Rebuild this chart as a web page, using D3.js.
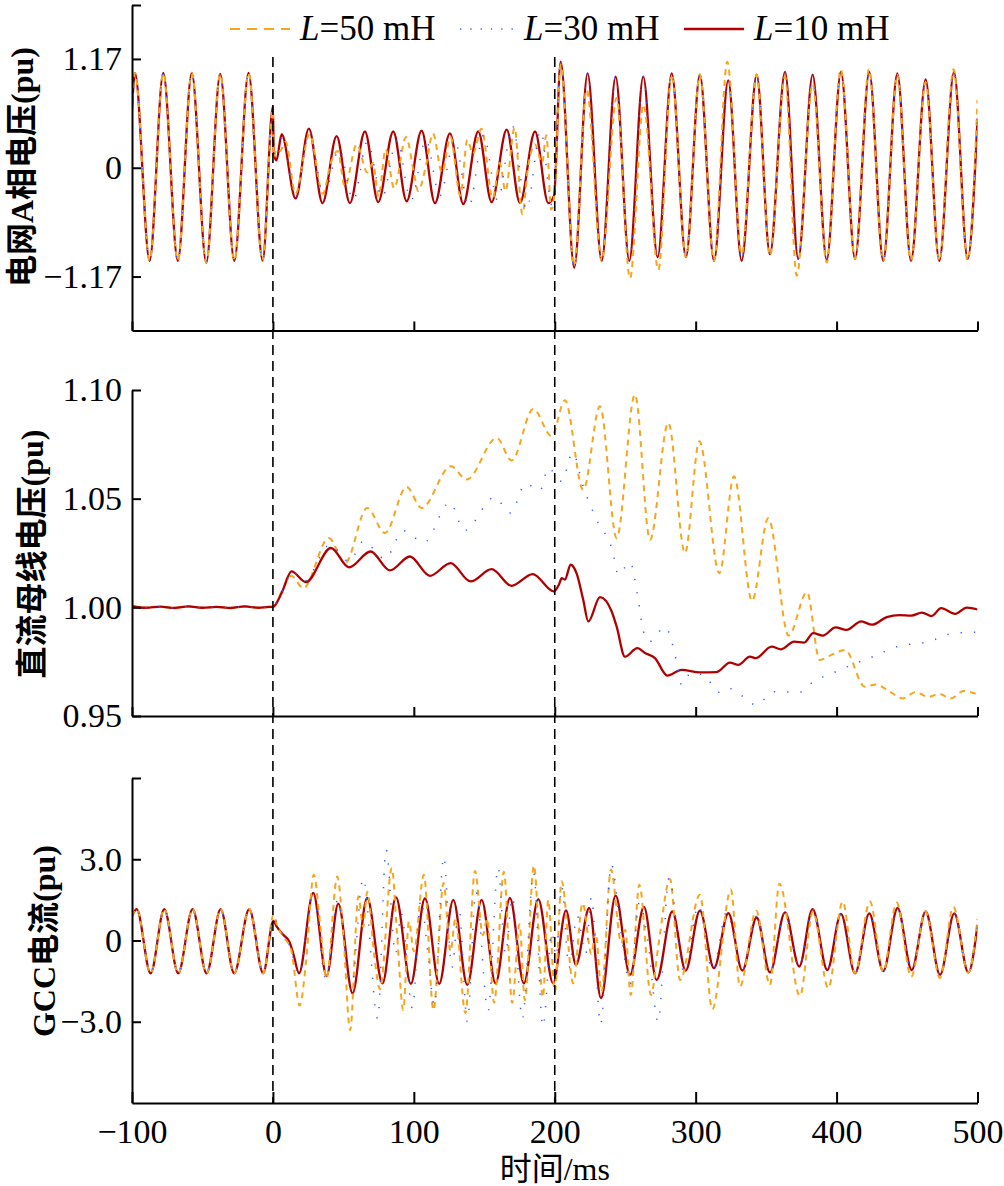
<!DOCTYPE html>
<html><head><meta charset="utf-8">
<script src="https://cdn.jsdelivr.net/npm/d3@7/dist/d3.min.js"></script>
<style>body{margin:0;background:#fff}svg{display:block}</style>
</head><body>
<svg id="chart" width="1004" height="1186"></svg>
<script>
// ---------------- DATA ----------------
const timeTicks = [-100, 0, 100, 200, 300, 400, 500];
const timeTickLabels = ["−100", "0", "100", "200", "300", "400", "500"];
const faultTimes = [0, 200];
const seriesNames = ["L=50 mH", "L=30 mH", "L=10 mH"];
const inductances = ["50", "30", "10"];

const gridTicks = [-1.17, 0, 1.17];
const gridTickLabels = ["−1.17", "0", "1.17"];
const dcTicks = [0.95, 1.00, 1.05, 1.10];
const dcTickLabels = ["0.95", "1.00", "1.05", "1.10"];
const gccTicks = [-3, 0, 3];
const gccTickLabels = ["−3.0", "0", "3.0"];

// Panel 1: grid phase-A voltage (pu) — [time ms, value] extrema
const gridPre = [[-100,0.62],[-97.9,1.02],[-87.5,-1.0],[-77.8,1.02],[-67.5,-1.0],[-57.6,1.02],[-47.3,-1.02],[-37.4,1.01],[-27.4,-1.0],[-17.3,1.02],[-7.3,-1.0]];
const gridRedFault = [[0,0.66],[0.6,0.15],[2.5,0.08],[6.2,0.36],[16.1,-0.33],[25.5,0.42],[35.2,-0.38],[45.2,0.34],[54.6,-0.38],[65.3,0.39],[74.7,-0.37],[85.4,0.39],[94.9,-0.36],[105.5,0.4],[115,-0.38],[125.6,0.37],[135.1,-0.39],[145.7,0.39],[155.2,-0.37],[165.9,0.41],[175.3,-0.38],[186,0.39],[195.4,-0.38]];
const gridOrangeFault = [[0,0.62],[0.6,0.12],[2.5,0.2],[5,0.18],[9,0.28],[16,-0.28],[26,0.36],[35.5,-0.28],[41,0.05],[46,0.18],[51,-0.2],[59.5,0.25],[67,-0.05],[71,0.05],[75,-0.31],[80,0.2],[86,-0.22],[94.5,0.33],[100,-0.05],[103,-0.25],[109,0.05],[113.5,0.37],[120,-0.05],[126,0.33],[133,-0.3],[138,0.3],[142,0.15],[148,0.42],[156,-0.33],[161,0.05],[165,-0.25],[171.5,0.43],[177,-0.5],[181,0.0],[186,0.25],[191,0.05],[194,0.35],[197.5,-0.45]];
const gridBlueFault = [[0,0.6],[0.6,0.18],[3,0.1],[6.5,0.33],[16,-0.32],[26,0.38],[36,-0.3],[47,0.2],[57,-0.35],[67,0.28],[77.5,-0.32],[88,0.3],[98,-0.35],[108.5,0.3],[118.5,-0.3],[129,0.3],[139,-0.42],[149.5,0.35],[159.5,-0.35],[170,0.45],[180,-0.45],[190,0.4],[198,-0.4]];
const gridRedPost = [[199.5,-0.3],[204.2,1.14],[213.8,-1.075],[223.3,1.015],[233.3,-1.0],[243.2,0.98],[252.9,-1.0],[262.8,0.98],[273,-0.96],[283,1.015],[293.1,-0.96],[303,1.0],[313,-1.0],[323.1,0.94],[332.6,-1.0],[343.3,1.0],[352.7,-0.93],[363.4,1.03],[372.8,-0.98],[383,1.0],[393,-0.99],[403.1,1.03],[413.1,-0.98],[423.2,1.03],[433.1,-1.0],[443.1,1.015],[452.8,-1.0],[463.2,0.95],[472.9,-1.0],[483.3,1.03],[493,-0.98],[500,0.53]];
const gridOrangePost = [[200,-0.25],[204.2,1.11],[213.8,-1.05],[222.6,0.84],[233.3,-1.0],[243.9,0.75],[253.4,-1.19],[263,0.68],[273.5,-1.1],[283,1.0],[293.1,-0.96],[303,1.0],[313,-1.0],[322.4,1.14],[332.6,-0.93],[343.3,1.0],[352.7,-0.95],[363.4,0.98],[371.7,-1.16],[383,0.9],[393,-1.02],[403,1.06],[413.1,-0.98],[423,1.06],[433.1,-1.0],[443.1,1.0],[452.8,-1.0],[463.2,0.92],[472.9,-1.0],[483,1.06],[493,-1.0],[500,0.73]];

// Panel 2: DC bus voltage (pu)
const dcPre = [[-100,1.0005],[-90,0.9998],[-80,1.0003],[-70,0.9997],[-60,1.0004],[-50,0.9998],[-40,1.0002],[-30,0.9997],[-20,1.0004],[-10,0.9998],[-3,1.0002]];
const dcRedAfter = [[0,1.0002],[6.1,1.0065],[13.2,1.0165],[23.4,1.0116],[41.2,1.0273],[54,1.0184],[69.3,1.0257],[83,1.017],[97.2,1.0234],[111.4,1.0145],[126.1,1.0203],[140.3,1.0119],[155.2,1.0176],[169.4,1.0099],[184.3,1.0153],[199.4,1.0073],[203,1.0105],[205,1.0134],[207.2,1.0128],[211.3,1.0196],[215.5,1.0156],[220.2,1.0035],[223.8,0.9935],[232.1,1.0047],[240.4,0.9981],[243.9,0.9912],[249.8,0.9773],[258.6,0.9812],[264,0.979],[271.1,0.9766],[279.9,0.9686],[290,0.9712],[303,0.9701],[314.9,0.9702],[324.3,0.9746],[330.3,0.9735],[338.5,0.9773],[342.5,0.9766],[353.9,0.9819],[360.7,0.9807],[369.8,0.9842],[377,0.9838],[383.4,0.9881],[390.2,0.987],[399.3,0.9908],[407,0.9896],[417.5,0.9935],[425.2,0.992],[435.6,0.9955],[444.7,0.9964],[453,0.9962],[460.6,0.9976],[467.4,0.996],[474.2,0.9996],[484.2,0.997],[492.4,0.9999],[500,0.999]];
const dcOrangeAfter = [[0,1.0003],[7.3,1.0088],[13,1.0145],[21.5,1.0088],[39.7,1.0319],[51.1,1.0203],[66.9,1.0457],[79.5,1.0342],[94.9,1.0554],[105.5,1.0457],[126.3,1.0649],[137.5,1.0588],[158.8,1.0779],[169.4,1.0676],[184.8,1.0913],[197.8,1.0787],[207.2,1.0953],[220.2,1.0541],[232.1,1.0925],[243.9,1.0319],[256.9,1.0979],[267.6,1.0311],[280.6,1.0849],[292.4,1.025],[302.6,1.0764],[316.8,1.0157],[327.2,1.0603],[340,1.003],[351.5,1.041],[366,0.987],[379,1.007],[388,0.9758],[396,0.978],[406,0.9804],[420,0.9635],[428,0.9645],[436,0.962],[447,0.9581],[456,0.961],[465,0.9588],[473,0.9602],[481,0.958],[490,0.9615],[500,0.960]];
const dcBlueAfter = [[0,1.0003],[8,1.009],[14,1.0165],[22,1.012],[40.5,1.0288],[54.2,1.0211],[64.1,1.0303],[79.5,1.0223],[92.5,1.0353],[107.2,1.0299],[125.6,1.0483],[135.8,1.0353],[157.1,1.0506],[168.7,1.0434],[179.3,1.0569],[189.5,1.0537],[195.4,1.0641],[204.9,1.058],[212.7,1.0711],[220.3,1.0554],[229.7,1.0403],[241.1,1.0257],[245.1,1.015],[253.4,1.0208],[258.8,1.0053],[262.8,0.9892],[267.1,0.9842],[278.2,0.9909],[286.5,0.975],[290,0.9643],[296.4,0.9697],[305.4,0.969],[316.8,0.9609],[323.2,0.9628],[336.2,0.9577],[342.5,0.9551],[356.1,0.9612],[374,0.961],[383.4,0.9658],[397,0.9697],[410.6,0.9735],[428.8,0.9781],[442.4,0.9819],[465.2,0.9842],[483.3,0.9881],[500,0.9886]];

// Panel 3: GCC current (pu)
const gccPre = [[-100,0.89],[-96.7,1.16],[-86.8,-1.21],[-77.1,1.16],[-67.2,-1.21],[-57,1.16],[-47.1,-1.21],[-37.1,1.16],[-27.5,-1.21],[-16.8,1.16],[-6.9,-1.21]];
const gccRedFault = [[0.3,0.72],[2.6,0.52],[7.3,0.21],[11.6,-0.04],[14.4,-0.47],[18.5,-1.21],[28.6,1.76],[38.1,-1.31],[46.4,1.36],[56.5,-1.95],[66.9,1.57],[77.8,-1.58],[87.3,1.6],[97.9,-1.6],[107.9,1.56],[118,-1.6],[128,1.5],[137.9,-1.64],[148.1,1.5],[158,-1.58],[168.2,1.57],[178.1,-1.58],[188.3,1.53],[198.8,-1.58]];
const gccRedPost = [[208,1.11],[215,-0.9],[224.5,1.2],[232.8,-2.13],[243.2,1.66],[253.4,-1.27],[263.3,1.24],[272.3,-1.46],[283.4,1.07],[292.9,-1.11],[303,1.1],[313,-1.02],[323.2,1.01],[333.1,-1.11],[343.3,0.85],[352.7,-1.18],[363.4,1.04],[373.5,-0.96],[383,1.16],[393.4,-1.09],[403.1,0.98],[413.1,-1.21],[423.2,1.0],[433.1,-1.13],[443.3,1.2],[453.3,-1.09],[463.2,1.07],[473.4,-1.27],[483.5,1.0],[493.5,-1.18],[500,0.58]];
const gccOrangeFault = [[0.5,0.95],[3,0.55],[8,0.1],[13,-0.35],[19,-2.4],[23.5,-0.8],[29,2.43],[33.5,0.6],[38,-1.4],[45.7,2.36],[50,0.2],[54.8,-3.31],[60.7,1.63],[64,0.5],[67,1.8],[72,-0.6],[76,-1.8],[84.4,2.68],[88,0.3],[92.5,-2.57],[96.5,0.7],[100,-0.4],[107.1,2.43],[113.9,-2.57],[121.1,2.12],[126,-0.4],[129.5,0.8],[136.6,-2.68],[143.4,2.57],[149,0.2],[152,0.8],[157,-2.3],[163.9,2.54],[169.8,-2.3],[175,0.6],[178.8,-2.2],[185.2,2.77],[191.6,-2.1],[195.4,1.5],[200.1,-1.89]];
const gccOrangePost = [[204.9,2.19],[213.1,-1.58],[219.8,1.38],[226,-0.5],[229,0.3],[233.2,-1.9],[239.9,2.62],[247.2,-0.1],[250,0.4],[253.9,-2.01],[260,2.06],[268.3,-2.01],[273.5,-0.2],[281.8,2.27],[288.9,-1.46],[303,1.69],[311.8,-2.54],[325,1.88],[331.4,-1.7],[343,1.1],[352.7,-1.64],[359.4,2.1],[374,-2.05],[383.2,1.07],[394.1,-1.76],[404.3,1.44],[413,-1.2],[423.7,1.44],[433,-1.15],[442.6,1.4],[453,-1.34],[463,1.07],[473.4,-1.38],[482.8,1.24],[493.5,-1.18],[500,0.8]];
const gccBlueFaultPost = [[0.5,0.8],[6,0.3],[12,-0.2],[18.5,-1.25],[28.5,1.75],[37.5,-1.4],[46,1.5],[55.5,-1.8],[64,2.3],[74.4,-2.9],[80.3,3.36],[87,-0.5],[91,1.0],[99,-2.5],[105,1.5],[110,-0.5],[114.5,-2.4],[121.2,3.1],[127,-1.0],[132,1.2],[138,-3.0],[144,1.8],[152.7,-2.6],[159.8,2.7],[165,-0.5],[170,1.6],[177,-2.9],[185,2.5],[191.6,-3.18],[198,0.3],[201,-0.6],[205,2.0],[210,-1.0],[216,0.9],[222,-0.5],[226,1.6],[232.5,-3.1],[240.2,2.8],[247,0.3],[253.5,-1.6],[260,1.4],[266,0.0],[273.4,-3.0],[281,2.3],[292,-1.2],[302,1.3],[312,-1.1],[322,1.05],[333,-1.1],[343.3,0.9]];

// ---------------- DRAWING ----------------
const COLORS = {o: "#f7a51c", b: "#3a5cff", r: "#b00000"};
const svg = d3.select("#chart");
const x = d3.scaleLinear().domain([-100, 500]).range([132, 977.5]);

const panels = [
  {id: "p1", y: d3.scaleLinear().domain([-1.75, 1.75]).range([330.5, 5]),
   ticks: gridTicks, labels: gridTickLabels, title: "电网A相电压(pu)", tx: 22, ty: 167,
   series: [
     {c: "r", d: gridPre.concat(gridRedFault, gridRedPost)},
     {c: "o", d: gridPre.concat(gridOrangeFault, gridOrangePost)},
     {c: "b", d: gridPre.concat(gridBlueFault, gridRedPost)}]},
  {id: "p2", y: d3.scaleLinear().domain([0.95, 1.10]).range([716, 390]),
   ticks: dcTicks, labels: dcTickLabels, title: "直流母线电压(pu)", tx: 32, ty: 554, noTop: true,
   series: [
     {c: "o", d: dcPre.concat(dcOrangeAfter)},
     {c: "r", d: dcPre.concat(dcRedAfter)},
     {c: "b", d: dcPre.concat(dcBlueAfter)}]},
  {id: "p3", y: d3.scaleLinear().domain([-6, 6]).range([1103, 778]),
   ticks: gccTicks, labels: gccTickLabels, title: "GCC电流(pu)", tx: 44, ty: 941, bottom: true,
   series: [
     {c: "r", d: gccPre.concat(gccRedFault, gccRedPost)},
     {c: "o", d: gccPre.concat(gccOrangeFault, gccOrangePost)},
     {c: "b", d: gccPre.concat(gccBlueFaultPost, gccRedPost.filter(p => p[0] > 345))}]}
];

const styleFor = c => c === "o" ? {w: 2, dash: "6,5"} : c === "b" ? {w: 1.5, dash: "1.3,12"} : {w: 2.3, dash: null};
const FONT = "'Liberation Serif','Times New Roman',serif";
const CJK = "'Liberation Serif','Noto Sans CJK SC',serif";
const FS = 34;

panels.forEach(p => {
  const y = p.y;
  const [y0, y1] = y.range();
  svg.append("clipPath").attr("id", "clip-" + p.id)
    .append("rect").attr("x", x(-100)).attr("y", y1).attr("width", x(500) - x(-100)).attr("height", y0 - y1);

  const line = d3.line().x(d => x(d[0])).y(d => y(d[1])).curve(d3.curveMonotoneX);
  const g = svg.append("g").attr("clip-path", `url(#clip-${p.id})`);
  p.series.forEach(s => {
    const st = styleFor(s.c);
    g.append("path").datum(s.d).attr("d", line)
      .attr("fill", "none").attr("stroke", COLORS[s.c]).attr("stroke-width", st.w)
      .attr("stroke-dasharray", st.dash).attr("stroke-linejoin", "round");
  });

  // y axis
  const yt = p.noTop ? p.ticks : p.ticks.concat([y.domain()[1]]);
  const yAxis = d3.axisLeft(y).tickValues(yt)
    .tickFormat(v => { const i = p.ticks.indexOf(v); return i >= 0 ? p.labels[i] : ""; })
    .tickSizeInner(-9).tickSizeOuter(0).tickPadding(10);
  const ga = svg.append("g").attr("transform", `translate(${x(-100)},0)`).call(yAxis);
  ga.select(".domain").attr("stroke", "#000").attr("stroke-width", 2);
  ga.selectAll(".tick line").attr("stroke", "#000").attr("stroke-width", 2);
  ga.selectAll(".tick text").attr("font-family", FONT).attr("font-size", FS).attr("fill", "#000");

  // x axis
  const xAxis = d3.axisBottom(x).tickValues(timeTicks)
    .tickFormat((v, i) => p.bottom ? timeTickLabels[i] : "")
    .tickSizeInner(p.bottom ? -11 : -9).tickSizeOuter(0).tickPadding(16);
  const gx = svg.append("g").attr("transform", `translate(0,${y0})`).call(xAxis);
  gx.select(".domain").attr("stroke", "#000").attr("stroke-width", 2.2);
  gx.selectAll(".tick line").attr("stroke", "#000").attr("stroke-width", 2);
  gx.selectAll(".tick text").attr("font-family", FONT).attr("font-size", FS).attr("fill", "#000");

  // y title
  svg.append("text").attr("transform", `translate(${p.tx},${p.ty}) rotate(-90)`)
    .attr("text-anchor", "middle").attr("dominant-baseline", "central")
    .attr("font-family", CJK).attr("font-size", 32).attr("font-weight", "bold").attr("fill", "#000")
    .text(p.title);
});

// fault instant markers
svg.selectAll(".fault").data(faultTimes).enter().append("line")
  .attr("x1", d => x(d)).attr("x2", d => x(d)).attr("y1", 57).attr("y2", panels[2].y.range()[0])
  .attr("stroke", "#000").attr("stroke-width", 1.6).attr("stroke-dasharray", "10,6");

// x title
svg.append("text").attr("x", x(200)).attr("y", 1180).attr("text-anchor", "middle")
  .attr("font-family", CJK).attr("font-size", 32).attr("fill", "#000").text("时间/ms");

// legend
const legendX = [230, 460, 684];
const legendTextX = [300, 524, 754];
const legendOrder = ["o", "b", "r"];
legendOrder.forEach((c, i) => {
  const st = styleFor(c);
  svg.append("line").attr("x1", legendX[i]).attr("x2", legendX[i] + 60).attr("y1", 29).attr("y2", 29)
    .attr("stroke", COLORS[c]).attr("stroke-width", st.w).attr("stroke-dasharray", c === "o" ? "10,7" : c === "b" ? "1.3,9" : null);
  const t = svg.append("text").attr("x", legendTextX[i]).attr("y", 40)
    .attr("font-family", FONT).attr("font-size", 35).attr("fill", "#000");
  t.append("tspan").attr("font-style", "italic").text("L");
  t.append("tspan").text("=" + inductances[i] + " mH");
});
</script>
</body></html>
